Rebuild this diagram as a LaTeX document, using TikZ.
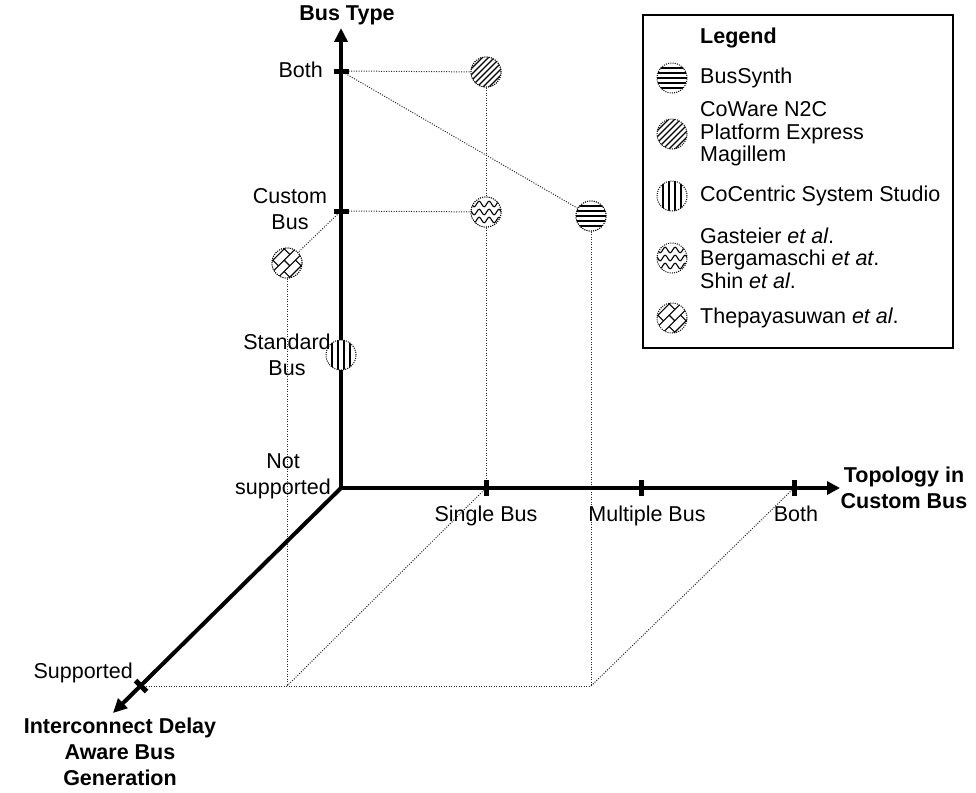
\documentclass[tikz,border=0pt]{standalone}
\usepackage{fontspec}
\setmainfont{Liberation Sans}
\usetikzlibrary{arrows.meta,decorations.pathmorphing}

\tikzset{
  lbl/.style={font=\fontsize{21.5}{26}\selectfont, align=center, inner sep=0pt},
  bold/.style={font=\fontsize{21.5}{26}\selectfont\bfseries, align=center, inner sep=0pt},
  legtxt/.style={font=\fontsize{21.5}{22.5}\selectfont, align=left, anchor=west, inner sep=0pt},
  axline/.style={line width=4pt, line join=miter},
  axtick/.style={line width=5pt},
  guide/.style={line width=1pt, dash pattern=on 1pt off 1.5pt, black!85},
  sym/.style={circle, draw, fill=white, line width=1pt, dash pattern=on 1pt off 1.2pt,
              minimum size=30pt, inner sep=0pt},
  % horizontal stripes
  hstripes/.style={sym, path picture={
      \foreach \k in {-10,-5,0,5,10}
        \draw[solid, line width=1.4pt]
          ([yshift=\k pt]path picture bounding box.west) -- ([yshift=\k pt]path picture bounding box.east);}},
  % diagonal hatching
  dstripes/.style={sym, path picture={
      \foreach \k in {-30,-24,...,30}
        \draw[solid, line width=1.1pt]
          ([xshift=\k pt]path picture bounding box.center) ++(-20pt,-20pt) -- ++(40pt,40pt);}},
  % vertical stripes
  vstripes/.style={sym, minimum width=27pt, path picture={
      \foreach \k in {-9,-3,3,9}
        \draw[solid, line width=1.6pt]
          ([xshift=\k pt]path picture bounding box.north) -- ([xshift=\k pt]path picture bounding box.south);}},
  % wavy rows
  waves/.style={sym, path picture={
      \foreach \k in {-8,0,8}
        \draw[solid, line width=1.1pt, decorate, decoration={snake, amplitude=2.8pt, segment length=10pt}]
          ([shift={(-20pt,\k pt)}]path picture bounding box.center) -- ++(40pt,0pt);}},
  % brick pattern laid at 45 degrees: (a,b) along / across the slant
  bricks/.style={sym, path picture={
      \begin{scope}[shift={(path picture bounding box.center)}, solid, line width=1.1pt]
        \foreach \r in {-12,-4,4,12}
          \draw ({(-22-\r)*0.7071pt},{(-22+\r)*0.7071pt}) -- ({(22-\r)*0.7071pt},{(22+\r)*0.7071pt});
        \foreach \a in {-8,8} {
          \draw ({(\a+12)*0.7071pt},{(\a-12)*0.7071pt}) -- ({(\a+4)*0.7071pt},{(\a-4)*0.7071pt});
          \draw ({(\a-4)*0.7071pt},{(\a+4)*0.7071pt}) -- ({(\a-12)*0.7071pt},{(\a+12)*0.7071pt});
        }
        \foreach \a in {-16,0,16}
          \draw ({(\a+4)*0.7071pt},{(\a-4)*0.7071pt}) -- ({(\a-4)*0.7071pt},{(\a+4)*0.7071pt});
      \end{scope}}},
}

\begin{document}
\begin{tikzpicture}[x=1pt, y=-1pt]
  \useasboundingbox (0,0) rectangle (976,792);

  % axis points
  \coordinate (O) at (341,488);
  \coordinate (ytip) at (341,28);
  \coordinate (xtip) at (840,488);
  \coordinate (ztip) at (113,713);
  \coordinate (yboth) at (341,71);
  \coordinate (ycust) at (341,211);
  \coordinate (xsingle) at (486,488);
  \coordinate (xmulti) at (641,488);
  \coordinate (xboth) at (794,488);
  \coordinate (zsup) at (141,686);
  \coordinate (b1) at (287,686);
  \coordinate (b2) at (591,686);

  % tool markers
  \node[dstripes] (cw) at (486,72) {};
  \node[waves] (gw) at (486,212) {};
  \node[hstripes] (bs) at (591,216) {};
  \node[bricks] (tp) at (287,263) {};

  % projection guides
  \draw[guide] (yboth) -- (cw);
  \draw[guide] (yboth) -- (bs);
  \draw[guide] (ycust) -- (gw);
  \draw[guide] (ycust) -- (tp);
  \draw[guide] (cw) -- (gw);
  \draw[guide] (gw) -- (xsingle);
  \draw[guide] (tp) -- (b1);
  \draw[guide] (bs) -- (b2);
  \draw[guide] (zsup) -- (b2);
  \draw[guide] (xsingle) -- (b1);
  \draw[guide] (xboth) -- (b2);

  % axes
  \draw[axline, {Triangle[length=14pt,width=13pt]}-{Triangle[length=13pt,width=13pt]}]
    (ytip) -- (O) -- (xtip);
  \draw[axline, -{Triangle[length=14pt,width=13pt]}] (O) -- (ztip);

  % ticks
  \draw[axtick] ([xshift=-7.5pt]yboth) -- ([xshift=7.5pt]yboth);
  \draw[axtick] ([xshift=-7.5pt]ycust) -- ([xshift=7.5pt]ycust);
  \draw[axtick] ([yshift=-8pt]xsingle) -- ([yshift=8pt]xsingle);
  \draw[axtick] ([yshift=-8pt]xmulti) -- ([yshift=8pt]xmulti);
  \draw[axtick] ([yshift=-8pt]xboth) -- ([yshift=8pt]xboth);
  \draw[axtick] ([shift={(-5.5pt,5.5pt)}]zsup) -- ([shift={(5.5pt,-5.5pt)}]zsup);

  % markers redrawn on top of the lines
  \node[dstripes] at (cw) {};
  \node[waves] at (gw) {};
  \node[hstripes] at (bs) {};
  \node[bricks] at (tp) {};
  \node[vstripes] (cc) at (341,355) {};

  % axis titles and values
  \node[bold] (tY) at (347,15) {Bus Type};
  \node[lbl, anchor=east] (lBothY) at (323,70) {Both};
  \node[lbl] (lCust) at (290,209) {Custom\\Bus};
  \node[lbl] (lStd) at (287,355) {Standard\\Bus};
  \node[lbl] (lNot) at (283,476) {Not\\supported};
  \node[lbl, anchor=base] (lSingle) at (486,521) {Single Bus};
  \node[lbl, anchor=base] (lMulti) at (647,521) {Multiple Bus};
  \node[lbl, anchor=base] (lBothX) at (796,521) {Both};
  \node[bold] (tX) at (904,488) {Topology in\\Custom Bus};
  \node[lbl, anchor=east] (lSup) at (133,673) {Supported};
  \node[bold] (tZ) at (120,752) {Interconnect Delay\\Aware Bus\\Generation};

  % legend
  \node[draw, line width=1.2pt, minimum width=310pt, minimum height=333pt, inner sep=0pt]
    (legend) at (798,181.5) {};
  \node[bold, anchor=west] (lgTitle) at (700,38) {Legend};
  \node[hstripes] (lgBs) at (672,78) {};
  \node[legtxt] (lgBsT) at (700,78) {BusSynth};
  \node[dstripes] (lgCw) at (672,134) {};
  \node[legtxt] (lgCwT) at (700,134) {CoWare N2C\\Platform Express\\Magillem};
  \node[vstripes] (lgCc) at (672,196) {};
  \node[legtxt] (lgCcT) at (700,196) {CoCentric System Studio};
  \node[waves] (lgGw) at (672,258) {};
  \node[legtxt] (lgGwT) at (700,258) {Gasteier \textit{et al}.\\Bergamaschi \textit{et at}.\\Shin \textit{et al}.};
  \node[bricks] (lgTp) at (672,318) {};
  \node[legtxt] (lgTpT) at (700,318) {Thepayasuwan \textit{et al}.};
\end{tikzpicture}
\end{document}
